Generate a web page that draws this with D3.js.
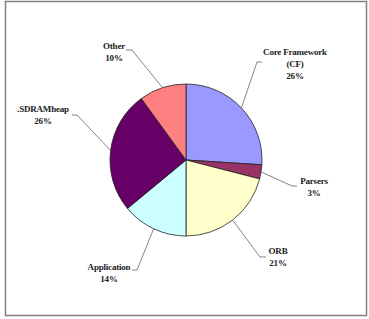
<!DOCTYPE html>
<html>
<head>
<meta charset="utf-8">
<script src="https://cdn.jsdelivr.net/npm/d3@7"></script>
<style>
  html, body { margin: 0; padding: 0; background: #fff; }
</style>
</head>
<body>
<div id="pie-chart"></div>
<script>
const categories = ["Core Framework (CF)", "Parsers", "ORB", "Application", ".SDRAMheap", "Other"];
const shares = [26, 3, 21, 14, 26, 10];
const labelLines = [
    ["Core Framework", "(CF)", "26%"],
    ["Parsers", "3%"],
    ["ORB", "21%"],
    ["Application", "14%"],
    [".SDRAMheap", "26%"],
    ["Other", "10%"]
];
const sliceColors = ["#9999ff", "#993366", "#ffffcc", "#ccffff", "#660066", "#ff8080"];

// label layout: text centre, leader elbow and tick end (pixels)
const labelLayout = [
    { tx: 295, ty: 55, ex: 257, ey: 62, kx: 262 },
    { tx: 314, ty: 184, ex: 292, ey: 186, kx: 297 },
    { tx: 278, ty: 254, ex: 260, ey: 257, kx: 266 },
    { tx: 109, ty: 270, ex: 137, ey: 270, kx: 132 },
    { tx: 43, ty: 112, ex: 77, ey: 115, kx: 72 },
    { tx: 114, ty: 49, ex: 132, ey: 50, kx: 126 }
];

const width = 369;
const height = 319;
const cx = 186;
const cy = 160;
const radius = 76;
const lineStep = 11.8;

const data = categories.map((c, i) => ({ name: c, value: shares[i], lines: labelLines[i], color: sliceColors[i], pos: labelLayout[i] }));

const svg = d3.select("#pie-chart").append("svg")
    .attr("width", width)
    .attr("height", height);

svg.append("rect")
    .attr("x", 5.5)
    .attr("y", 1.5)
    .attr("width", 361)
    .attr("height", 314)
    .attr("fill", "#fff")
    .attr("stroke", "#808080")
    .attr("stroke-width", 1.5);

const pie = d3.pie().sort(null).value(d => d.value);
const arcs = pie(data);

const arc = d3.arc().innerRadius(0).outerRadius(radius);
const edgeArc = d3.arc().innerRadius(radius).outerRadius(radius);

const group = svg.append("g")
    .attr("transform", `translate(${cx}, ${cy})`);

group.selectAll("path.slice")
    .data(arcs)
    .join("path")
    .attr("class", "slice")
    .attr("d", arc)
    .attr("fill", d => d.data.color)
    .attr("stroke", "#222")
    .attr("stroke-width", 0.8);

// leader lines
svg.selectAll("polyline.leader")
    .data(arcs)
    .join("polyline")
    .attr("class", "leader")
    .attr("fill", "none")
    .attr("stroke", "#666")
    .attr("stroke-width", 0.8)
    .attr("points", d => {
        const [sx, sy] = edgeArc.centroid(d);
        const p = d.data.pos;
        return `${cx + sx},${cy + sy} ${p.ex},${p.ey} ${p.kx},${p.ey}`;
    });

const labels = svg.selectAll("text.slice-label")
    .data(arcs)
    .join("text")
    .attr("class", "slice-label")
    .attr("text-anchor", "middle")
    .style("font-family", "'Liberation Serif', 'Times New Roman', serif")
    .style("font-size", "9px")
    .style("font-weight", "bold")
    .style("letter-spacing", "-0.2px")
    .style("fill", "#222");

labels.selectAll("tspan")
    .data(d => d.data.lines.map((t, i) => ({ t, i, pos: d.data.pos })))
    .join("tspan")
    .attr("x", d => d.pos.tx)
    .attr("y", d => d.pos.ty + d.i * lineStep)
    .text(d => d.t);
</script>
</body>
</html>
